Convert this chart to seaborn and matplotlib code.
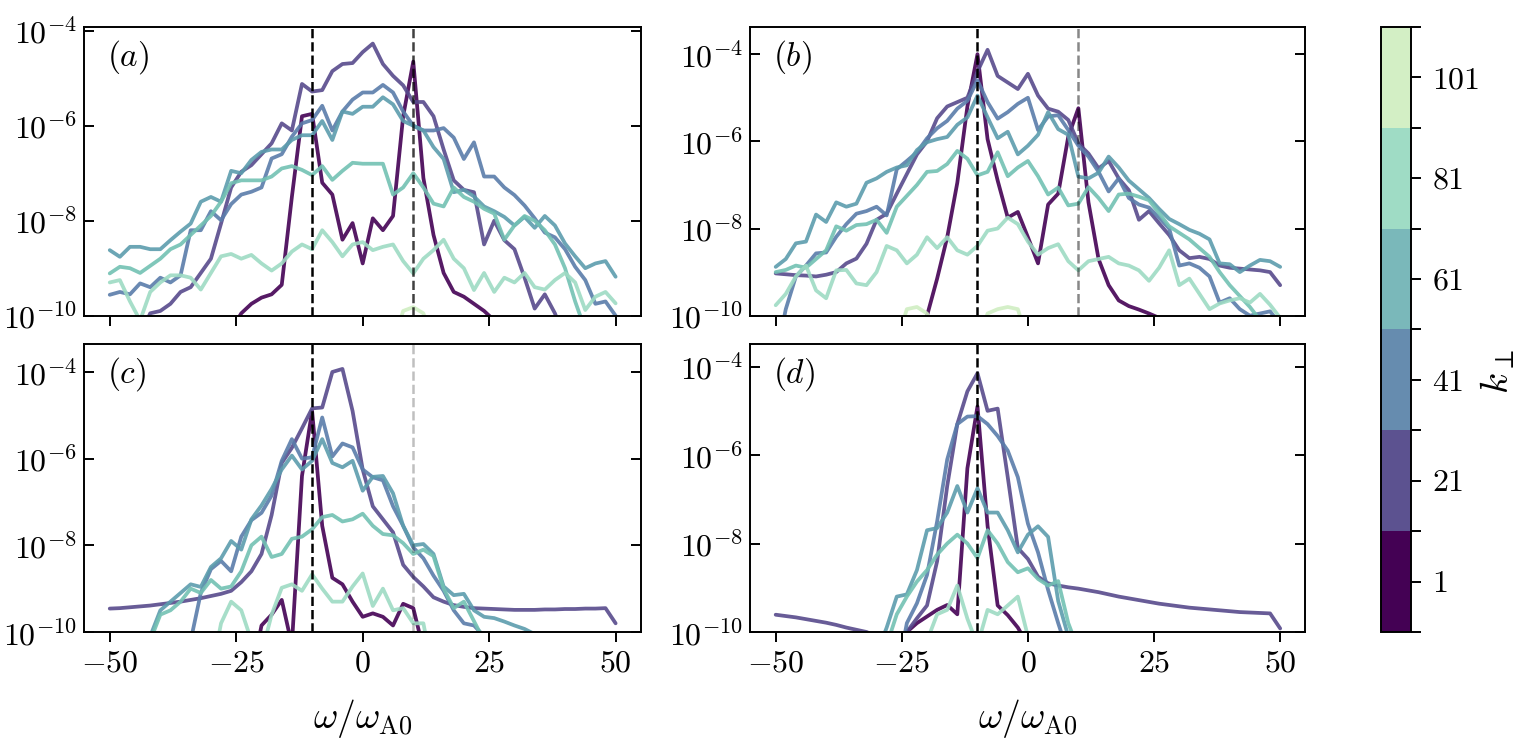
import numpy as np
import pandas as pd
import seaborn as sns
import matplotlib.pyplot as plt
from matplotlib.colors import ListedColormap, BoundaryNorm
from matplotlib.cm import ScalarMappable
from matplotlib.ticker import NullLocator, FixedLocator

sns.set_style('ticks')
plt.rcParams.update({
    'font.family': 'serif',
    'font.serif': ['cmr10'],
    'mathtext.fontset': 'cm',
    'axes.formatter.use_mathtext': True,
    'axes.linewidth': 1.4,
    'axes.edgecolor': 'black',
    'text.color': 'black',
    'axes.labelcolor': 'black',
    'xtick.color': 'black',
    'ytick.color': 'black',
})

# frequency grid (omega / omega_A0)
omega = np.arange(-50, 51, 2)

# log10 of the spectra; values < -10 fall below the axis
lo = -11
off = -10.6

# panel (a)
a_k1 = [lo]*12 + [-10.3, -9.95, -9.75, -9.62, -9.55, -9.35, -7.5, -5.8, -5.75, -7.2, -7.45, -8.4, -8.05, -8.9,
                  -7.95, -8.2, -7.9, -5.8, -4.65, -7.1, -8.3, -9.1, -9.5, -9.6, -9.75, -9.9, -10.1, -10.4] + [lo]*11
a_k21 = [lo]*3 + [-10.4, -9.95, -9.9, -9.75, -9.5, -9.4, -9.1, -8.8, -8.06, -7.3, -6.97, -6.83, -6.6, -6.37, -5.95,
                  -6.1, -5.12, -5.28, -5.25, -4.85, -4.7, -4.68, -4.45, -4.27, -4.7, -4.95, -5.15, -5.5, -5.5, -5.8,
                  -6.5, -7.15, -7.35, -7.4, -8.5, -8.0, -8.41, -8.6, -9.2, -9.85, -9.55, -9.95, -10.5] + [lo]*5
a_k41 = [-9.56, -9.5, -9.55, -9.32, -9.4, -9.2, -9.3, -9.15, -8.2, -8.2, -7.8, -7.99, -7.65, -7.45, -7.39, -7.3,
         -6.69, -6.6, -6.23, -5.95, -5.88, -5.58, -6.1, -5.7, -5.45, -5.3, -5.3, -5.14, -5.3, -5.7, -6.0, -6.1,
         -6.1, -6.05, -6.25, -6.7, -6.35, -7.07, -7.07, -7.3, -7.46, -7.68, -7.95, -8.25, -8.35, -8.6, -8.97,
         -9.25, -9.75, -9.7, -10.0]
a_k61 = [-8.62, -8.76, -8.55, -8.55, -8.6, -8.6, -8.41, -8.23, -8.06, -7.6, -7.5, -7.6, -6.95, -7.0, -6.72, -6.55,
         -6.5, -6.5, -6.3, -6.2, -6.2, -5.9, -6.3, -5.7, -5.75, -5.6, -5.6, -5.4, -5.55, -5.9, -6.0, -6.1, -6.45,
         -6.7, -7.4, -7.35, -7.49, -7.7, -7.8, -7.92, -8.1, -7.92, -8.15, -7.9, -8.1, -8.48, -8.75, -9.0, -8.9,
         -8.85, -9.18]
a_k71 = [-9.11, -8.97, -9.0, -9.1, -8.95, -8.8, -8.6, -8.5, -8.3, -8.1, -7.9, -7.6, -7.21, -7.15, -7.15, -7.15,
         -7.07, -6.9, -6.85, -6.93, -7.04, -6.85, -7.14, -6.95, -6.78, -6.8, -6.8, -6.8, -7.45, -7.3, -7.0, -7.3,
         -7.64, -7.7, -7.3, -7.5, -7.6, -7.75, -7.85, -8.4, -8.1, -7.9, -8.0, -8.2, -8.5, -9.0, -9.7, -10.3, lo,
         lo, lo]
a_k81 = [-9.3, -9.25, -9.7, -10.1, -9.5, -9.3, -9.15, -9.15, -9.2, -9.45, -9.1, -8.75, -8.7, -8.8, -8.72, -8.9,
         -9.05, -8.9, -8.65, -8.5, -8.6, -8.2, -8.45, -8.75, -8.5, -8.45, -8.62, -8.55, -8.5, -8.85, -9.11, -8.8,
         -8.62, -8.4, -8.8, -9.0, -9.46, -9.1, -9.5, -9.2, -9.3, -9.1, -9.4, -9.45, -9.25, -9.1, -9.3, -9.88,
         -9.6, -9.5, -9.74]
a_k101 = [off]*29 + [-9.9, -9.82, -9.95] + [off]*19

# panel (b)
b_k1 = [lo]*15 + [-10.0, -9.15, -8.2, -6.95, -5.2, -4.0, -5.95, -6.9, -7.75, -7.62, -8.2, -8.8, -7.45, -7.2,
                  -5.89, -5.24, -7.4, -8.7, -9.3, -9.65, -9.78, -9.86, -9.95, -10.05, -10.2] + [lo]*11
b_k21 = [-9.03, -9.05, -9.07, -9.08, -9.1, -9.06, -9.0, -8.8, -8.69, -8.35, -7.8, -7.66, -7.2, -6.75, -6.3, -6.0,
         -5.47, -5.2, -5.1, -5.0, -4.4, -3.9, -4.5, -4.65, -4.8, -4.45, -4.95, -5.25, -5.32, -5.51, -6.05, -6.28,
         -6.62, -6.45, -6.85, -7.12, -7.8, -7.6, -7.88, -8.15, -8.5, -8.68, -8.65, -8.7, -8.85, -8.9, -8.92,
         -8.94, -8.96, -9.0, -9.3]
b_k41 = [lo, -9.85, -9.1, -8.85, -8.57, -8.55, -8.19, -7.9, -7.66, -7.6, -7.5, -7.7, -6.64, -6.45, -6.25, -5.93,
         -5.7, -5.53, -5.25, -5.07, -4.6, -5.1, -5.48, -5.33, -5.14, -5.0, -5.74, -5.43, -5.4, -5.74, -6.1, -6.35,
         -6.7, -7.15, -6.85, -7.3, -7.45, -7.52, -7.75, -8.0, -8.85, -8.8, -8.9, -9.1, -9.7, -9.6, -9.85, -10.0,
         -9.95, -9.9, -10.2]
b_k61 = [-8.88, -8.7, -8.34, -8.3, -7.68, -7.85, -7.4, -7.5, -7.43, -6.95, -6.85, -6.7, -6.6, -6.55, -6.2, -6.02,
         -5.95, -5.9, -5.62, -5.45, -4.95, -5.45, -5.93, -5.78, -6.3, -6.1, -5.85, -5.33, -5.72, -5.85, -6.81,
         -6.85, -6.72, -6.35, -6.6, -6.9, -7.1, -7.3, -7.55, -7.78, -7.9, -8.03, -8.12, -8.25, -8.8, -8.82, -9.0,
         -8.85, -8.72, -8.75, -8.88]
b_k71 = [-9.0, -8.95, -8.85, -8.9, -8.7, -8.5, -7.95, -8.05, -7.92, -7.9, -7.8, -8.1, -7.5, -7.25, -7.0, -6.7,
         -6.68, -6.52, -6.22, -6.4, -6.78, -6.7, -6.25, -6.8, -6.6, -6.45, -6.8, -7.22, -7.06, -7.47, -7.43, -7.05,
         -7.3, -7.6, -7.22, -7.2, -7.27, -7.35, -7.65, -7.95, -8.1, -8.25, -8.45, -8.65, -9.0, -9.3, -9.55, -9.8,
         -10.1, -10.5, lo]
b_k81 = [-9.76, -9.5, -9.1, -8.85, -9.42, -9.6, -8.96, -8.95, -9.26, -9.3, -9.0, -8.4, -8.5, -8.8, -8.6, -8.2,
         -8.45, -8.2, -8.5, -8.6, -8.4, -8.05, -8.0, -7.75, -7.9, -8.3, -8.6, -8.45, -8.36, -8.75, -8.96, -8.75,
         -8.7, -8.65, -8.8, -8.85, -8.96, -9.2, -8.9, -8.5, -9.3, -9.15, -9.5, -9.85, -9.72, -9.65, -9.6, -9.7,
         -9.5, -9.75, -10.05]
b_k101 = [off]*13 + [-9.85, -9.8, -9.95] + [off]*5 + [-9.95, -9.85, -9.8, -9.85] + [off]*26

# panel (c)
c_k1 = [lo]*15 + [-9.85, -9.6, -9.26, -10.3, -6.4, -4.9, -7.55, -8.75, -8.9, -9.3, -9.65, -9.57, -9.65, -9.85,
                  -9.35, -9.45, -10.4] + [lo]*19
c_k21 = [-9.46, -9.45, -9.43, -9.41, -9.39, -9.36, -9.33, -9.3, -9.26, -9.22, -9.17, -9.12, -9.05, -8.85, -8.6,
         -8.2, -7.3, -6.1, -5.75, -5.3, -4.84, -4.82, -4.0, -3.93, -4.9, -6.25, -7.1, -7.4, -7.7, -8.45, -8.73,
         -8.95, -9.2, -9.3, -9.38, -9.42, -9.45, -9.46, -9.47, -9.48, -9.49, -9.49, -9.49, -9.48, -9.48, -9.47,
         -9.47, -9.46, -9.46, -9.45, -9.8]
c_k41 = [lo]*8 + [-10.2, -9.1, -8.55, -8.36, -8.6, -7.8, -7.42, -7.25, -6.85, -6.05, -5.55, -6.0, -5.97, -5.05,
                  -5.95, -5.65, -5.74, -6.25, -6.43, -6.5, -7.1, -7.55, -8.05, -8.3, -8.7, -9.05, -9.5, -9.8, -9.85,
                  -10.1] + [lo]*13
c_k61 = [lo]*4 + [-10.1, -9.5, -9.3, -9.1, -8.9, -8.96, -8.5, -8.3, -7.9, -8.1, -7.4, -7.08, -6.7, -6.25, -5.93,
                  -6.25, -6.05, -5.55, -6.1, -6.2, -6.05, -6.74, -6.42, -6.4, -6.8, -7.55, -8.0, -7.97, -8.2, -8.95,
                  -9.15, -9.12, -9.5, -9.65, -9.68, -9.76, -9.85, -9.93, -10.05] + [lo]*8
c_k71 = [lo]*4 + [-10.2, -9.6, -9.5, -9.3, -9.0, -9.1, -8.8, -9.0, -8.95, -8.6, -8.0, -7.8, -8.27, -8.2, -7.85,
                  -7.8, -7.63, -7.35, -7.3, -7.45, -7.4, -7.27, -7.55, -7.74, -7.77, -7.95, -8.2, -8.1, -8.25, -9.0,
                  -9.45, -9.3, -9.75, -10.2] + [lo]*13
c_k81 = [lo]*11 + [-9.8, -9.3, -9.5, -10.2, -10.5, -9.6, -8.98, -8.9, -9.05, -8.67, -9.0, -9.3, -9.3, -8.95,
                   -8.65, -9.4, -9.0, -9.5, -9.45, -9.8, -9.8] + [lo]*19
c_k101 = [off]*51

# panel (d)
d_k1 = [lo]*13 + [-10.0, -9.8, -9.65, -9.5, -9.39, -9.6, -6.3, -4.9, -7.6, -9.4, -9.62, -9.9, -10.3] + [lo]*25
d_k21 = [-9.61, -9.64, -9.67, -9.71, -9.75, -9.79, -9.84, -9.9, -9.95, -10.0, -10.1, -10.2, -10.15, -10.0, -9.69,
         -9.4, -8.4, -6.7, -5.3, -4.56, -4.15, -5.0, -4.95, -6.5, -8.1, -8.35, -8.75, -8.9, -8.95, -8.99, -9.02,
         -9.06, -9.1, -9.15, -9.2, -9.24, -9.28, -9.32, -9.36, -9.39, -9.42, -9.45, -9.47, -9.49, -9.51, -9.53,
         -9.55, -9.56, -9.57, -9.58, -9.92]
d_k41 = [lo]*13 + [-9.8, -9.35, -8.71, -7.5, -6.1, -5.3, -5.13, -5.12, -5.3, -5.57, -5.9, -6.5, -7.55, -8.2,
                   -9.05, -9.8, -10.5] + [lo]*21
d_k61 = [lo]*10 + [-10.5, -9.9, -9.2, -9.15, -8.6, -7.7, -7.65, -7.3, -6.7, -7.3, -6.75, -7.3, -7.3, -7.7, -8.2,
                   -7.8, -7.61, -7.85, -9.3, -10.1, -10.6] + [lo]*20
d_k71 = [lo]*11 + [-10.3, -9.6, -9.2, -8.86, -8.6, -8.25, -8.0, -7.8, -8.0, -8.33, -7.7, -8.0, -8.42, -8.65,
                   -8.56, -8.8, -8.95, -8.85, -9.8, -10.4] + [lo]*20
d_k81 = [lo]*15 + [-10.2, -9.6, -9.5, -8.95, -9.7, -10.3, -9.5, -9.6, -9.4, -9.2, -10.1] + [lo]*25
d_k101 = [off]*51

series = ['k1', 'k21', 'k41', 'k61', 'k71', 'k81', 'k101']
line_colors = ['#440154', '#574a8c', '#5a7caa', '#5c9cad', '#72c1b3', '#9edbc3', '#d0eec2']
palette = dict(zip(series, line_colors))

panels = {
    'a': [a_k1, a_k21, a_k41, a_k61, a_k71, a_k81, a_k101],
    'b': [b_k1, b_k21, b_k41, b_k61, b_k71, b_k81, b_k101],
    'c': [c_k1, c_k21, c_k41, c_k61, c_k71, c_k81, c_k101],
    'd': [d_k1, d_k21, d_k41, d_k61, d_k71, d_k81, d_k101],
}
ytop = {'a': 1.2e-4, 'b': 4.2e-4, 'c': 4.5e-4, 'd': 3.3e-4}
# grey level of the dashed line at +10 in each panel
dash_alpha = {'a': 0.75, 'b': 0.47, 'c': 0.25, 'd': 0.0}

# colourbar
kperp = [1, 21, 41, 61, 81, 101]
bar_colors = ['#440154', '#5c5290', '#668caf', '#7ab8ba', '#9fdcc5', '#d3efc5']
bounds = [-9, 11, 31, 51, 71, 91, 111]

fig = plt.figure(figsize=(15.3, 7.52), dpi=100)
boxes = {
    'a': [0.0552, 0.5802, 0.3637, 0.3839],
    'b': [0.4905, 0.5802, 0.3627, 0.3839],
    'c': [0.0552, 0.1596, 0.3637, 0.3834],
    'd': [0.4905, 0.1596, 0.3627, 0.3834],
}

for name, vals in panels.items():
    ax = fig.add_axes(boxes[name])
    df = pd.DataFrame({
        'omega': np.tile(omega, len(series)),
        'power': 10.0 ** np.concatenate([np.asarray(v, dtype=float) for v in vals]),
        'k': np.repeat(series, len(omega)),
    })
    sns.lineplot(data=df, x='omega', y='power', hue='k', hue_order=series, palette=palette,
                 linewidth=2.7, alpha=0.9, legend=False, ax=ax, sort=True)
    ax.set_yscale('log')
    ax.set_ylim(1e-10, ytop[name])
    ax.set_xlim(-55, 55)
    ax.axvline(-10, color='k', ls='--', lw=1.8, zorder=5)
    if dash_alpha[name] > 0:
        ax.axvline(10, color='k', ls='--', lw=1.8, alpha=dash_alpha[name], zorder=5)

    ax.set_yticks([1e-10, 1e-8, 1e-6, 1e-4])
    ax.yaxis.set_minor_locator(NullLocator())
    ax.set_xticks([-50, -25, 0, 25, 50])
    ax.tick_params(axis='y', which='major', direction='in', left=True, right=True,
                   length=7, width=1.4, labelsize=23, pad=5)
    ax.tick_params(axis='x', which='major', direction='out', bottom=True, top=False,
                   length=7, width=1.4, labelsize=23, pad=6)
    ax.set_ylabel('')
    if name in ('a', 'b'):
        ax.tick_params(axis='x', labelbottom=False)
        ax.set_xlabel('')
    else:
        ax.set_xlabel(r'$\omega/\omega_{\rm A0}$', fontsize=27, labelpad=14)
    ax.text(0.04, 0.895, r'$(%s)$' % name, transform=ax.transAxes, fontsize=24,
            ha='left', va='center')

cax = fig.add_axes([0.9026, 0.1596, 0.0196, 0.8045])
cmap = ListedColormap(bar_colors)
norm = BoundaryNorm(bounds, cmap.N)
cb = fig.colorbar(ScalarMappable(norm=norm, cmap=cmap), cax=cax, ticks=kperp)
cb.outline.set_linewidth(1.4)
cax.yaxis.set_minor_locator(FixedLocator(bounds))
cax.tick_params(which='both', direction='out', length=7, width=1.4, labelsize=23, pad=8)
cb.set_label(r'$k_\perp$', fontsize=28)
cax.yaxis.set_label_coords(3.25, 0.43)

fig.savefig('out.png', dpi=100)
